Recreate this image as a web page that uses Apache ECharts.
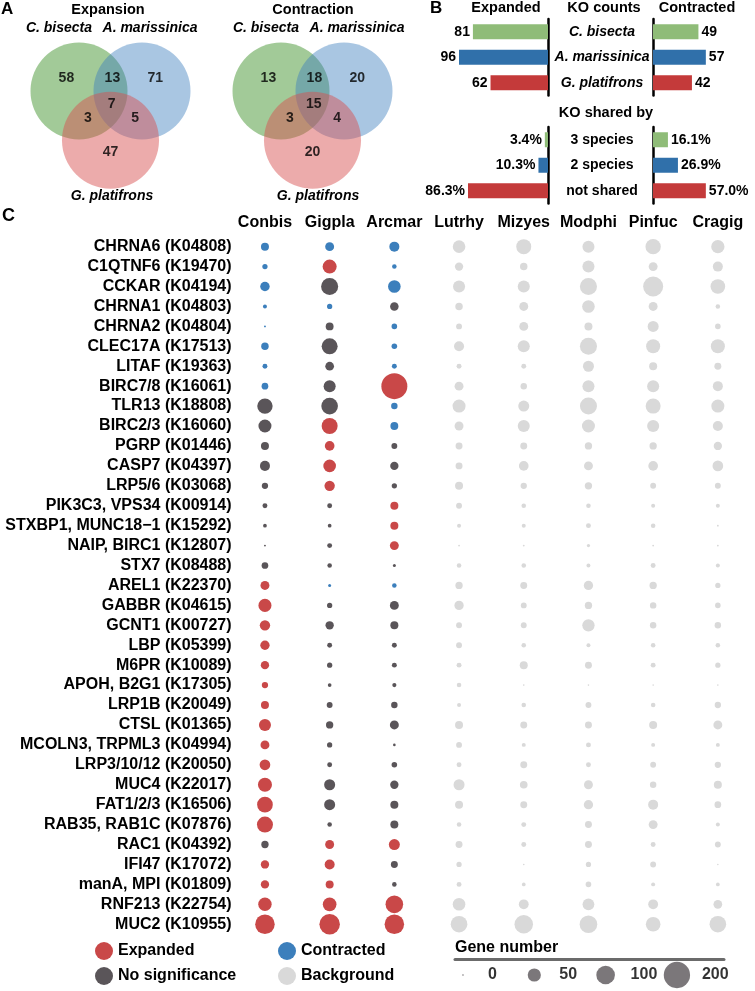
<!DOCTYPE html>
<html><head><meta charset="utf-8">
<script src="https://cdn.jsdelivr.net/npm/echarts@6/dist/echarts.min.js"></script>
<style>html,body{margin:0;padding:0;background:#fff}#c{width:755px;height:991px}</style>
</head><body><div id="c"></div>
<script>
const FONT = "'Liberation Sans', Arial, Helvetica, sans-serif";

// ---------- Panel A (Venn) ----------
const vennSets = ['C. bisecta', 'A. marissinica', 'G. platifrons'];
// regions: C only, C∩A, A only, C∩G, C∩A∩G, A∩G, G only
const expansionCounts = [58, 13, 71, 3, 7, 5, 47];
const contractionCounts = [13, 18, 20, 3, 15, 4, 20];

// ---------- Panel B ----------
const species = ['C. bisecta', 'A. marissinica', 'G. platifrons'];
const expandedKO = [81, 96, 62];
const contractedKO = [49, 57, 42];
const sharedBy = ['3 species', '2 species', 'not shared'];
const expandedShared = [3.4, 10.3, 86.3];
const contractedShared = [16.1, 26.9, 57.0];

// ---------- Panel C ----------
const genomes = ['Conbis', 'Gigpla', 'Arcmar', 'Lutrhy', 'Mizyes', 'Modphi', 'Pinfuc', 'Cragig'];
const koLabels = ['CHRNA6 (K04808)', 'C1QTNF6 (K19470)', 'CCKAR (K04194)', 'CHRNA1 (K04803)', 'CHRNA2 (K04804)',
  'CLEC17A (K17513)', 'LITAF (K19363)', 'BIRC7/8 (K16061)', 'TLR13 (K18808)', 'BIRC2/3 (K16060)',
  'PGRP (K01446)', 'CASP7 (K04397)', 'LRP5/6 (K03068)', 'PIK3C3, VPS34 (K00914)', 'STXBP1, MUNC18\u22121 (K15292)',
  'NAIP, BIRC1 (K12807)', 'STX7 (K08488)', 'AREL1 (K22370)', 'GABBR (K04615)', 'GCNT1 (K00727)',
  'LBP (K05399)', 'M6PR (K10089)', 'APOH, B2G1 (K17305)', 'LRP1B (K20049)', 'CTSL (K01365)',
  'MCOLN3, TRPML3 (K04994)', 'LRP3/10/12 (K20050)', 'MUC4 (K22017)', 'FAT1/2/3 (K16506)', 'RAB35, RAB1C (K07876)',
  'RAC1 (K04392)', 'IFI47 (K17072)', 'manA, MPI (K01809)', 'RNF213 (K22754)', 'MUC2 (K10955)'];
// gene numbers per genome (same order as koLabels)
const conbisGenes = [18.5, 8, 26, 4.6, 1, 16, 7, 13, 68, 49, 18.5, 29, 11.5, 7, 4, 1, 13, 23, 49, 31, 25, 20, 11.5, 18.5, 42, 23, 33, 57, 71, 74, 15.5, 20, 20, 52, 110];
const gigplaGenes = [23, 57, 84, 8, 18, 74, 22, 42, 80, 74, 27, 46, 31, 7, 4, 7, 6, 2.6, 8, 20, 7, 8, 4, 10, 15.5, 8, 7, 35, 35, 6, 23, 29, 18.5, 54, 121];
const arcmarGenes = [29, 6, 46, 21, 9, 9, 7, 195, 12, 18, 10, 20, 8, 18.5, 18.5, 23, 2.6, 6, 23, 18.5, 7, 7, 5, 12, 23, 2, 9, 20, 18.5, 18.5, 35, 14, 6, 90, 110];
const lutrhyGenes = [46, 20, 42, 16, 10, 29, 7, 23, 49, 23, 14, 14, 18.5, 10, 4.6, 1, 6, 15.5, 25, 10, 10, 7, 6, 4.6, 18.5, 10, 7, 35, 18.5, 6, 14, 8, 7, 46, 80];
const mizyesGenes = [65, 16, 42, 23, 23, 42, 7, 12, 35, 42, 14, 27, 11.5, 6, 4.6, 1, 6, 14, 10, 10, 6, 18.5, 0.5, 6, 14, 4.6, 14, 17, 14, 7, 7, 0.5, 4, 28, 99];
const modphiGenes = [42, 42, 84, 46, 18.5, 84, 35, 42, 84, 49, 15.5, 23, 15.5, 6, 7, 3, 4.6, 25, 15.5, 44, 4.6, 14, 0.5, 10, 14, 7, 7, 23, 25, 14, 14, 8, 9, 40, 90];
const pinfucGenes = [68, 23, 116, 23, 35, 57, 18.5, 42, 65, 42, 15.5, 27, 10, 4.6, 6, 1, 7, 15.5, 12, 12, 6, 7, 0.5, 6, 18.5, 4.6, 10, 12, 29, 23, 7, 10, 4.6, 28, 62];
const cragigGenes = [51, 29, 62, 6, 9, 57, 14, 29, 49, 29, 20, 33, 10, 4.6, 1, 1, 4.6, 8, 9, 12, 6, 8, 0.5, 11.5, 23, 4.6, 11.5, 18.5, 13, 4.6, 10, 0.5, 4, 22, 80];
// status: E = expanded, C = contracted, N = no significance (background genomes have none)
const conbisStatus = 'CCCCCCCCNNNNNNNNNEEEEEEEEEEEEENEEEE'.split('');
const gigplaStatus = 'CENCNNNNNEEEENNNNCNNNNNNNNNNNNEEEEE'.split('');
const arcmarStatus = 'CCCNCCCECCNNNEEENCNNNNNNNNNNNNENNEE'.split('');
const geneLegendValues = [0, 50, 100, 200];

// ---------- helpers ----------
const genes = [conbisGenes, gigplaGenes, arcmarGenes, lutrhyGenes, mizyesGenes, modphiGenes, pinfucGenes, cragigGenes];
const statuses = [conbisStatus, gigplaStatus, arcmarStatus];
const sizeOf = v => Math.max(1.6, 1.86 * Math.sqrt(v));
const dotColors = { E: '#C94848', C: '#3C7FBC', N: '#5A5559', B: '#D9D9D9' };
const statusNames = { E: 'Expanded', C: 'Contracted', N: 'No significance', B: 'Background' };
const barColors = ['#8FBC78', '#3070AA', '#C43A3A'];

function txt(text, x, y, o) {
  o = o || {};
  return { type: 'text', x: x, y: y, silent: true, style: {
    text: text, fill: '#000', fontFamily: FONT, fontWeight: 'bold',
    fontSize: o.size || 14, fontStyle: o.italic ? 'italic' : 'normal',
    align: o.align || 'center', verticalAlign: 'middle' } };
}

const grids = [], xAxes = [], yAxes = [], series = [];

// Venn grids
const U = 63; // px per venn unit
const circleCenters = [[-0.5, 0], [0.5, 0], [0, 0.78]];
const regionPos = [[-0.7, -0.21], [0.03, -0.21], [0.71, -0.21], [-0.36, 0.43], [0.02, 0.21], [0.39, 0.43], [0, 0.97]];
const vennColors = ['rgba(60,145,40,0.6)', 'rgba(60,125,190,0.55)', 'rgba(215,80,80,0.6)'];
[expansionCounts, contractionCounts].forEach((counts, k) => {
  grids.push({ left: 110.5 - 1.6 * U + 202 * k, top: 91 - 1.4 * U, width: 3.2 * U, height: 3.2 * U });
  xAxes.push({ gridIndex: k, type: 'value', min: -1.6, max: 1.6, show: false });
  yAxes.push({ gridIndex: k, type: 'value', min: -1.4, max: 1.8, inverse: true, show: false });
  series.push({ type: 'scatter', xAxisIndex: k, yAxisIndex: k, symbolSize: 0.77 * 2 * U, silent: true,
    data: circleCenters.map((c, i) => ({ value: c, itemStyle: { color: vennColors[i] } })) });
  series.push({ type: 'scatter', xAxisIndex: k, yAxisIndex: k, symbolSize: 1, silent: true, z: 5,
    itemStyle: { color: 'rgba(0,0,0,0)' },
    label: { show: true, position: 'inside', color: '#000', fontFamily: FONT, fontWeight: 'bold', fontSize: 14,
      formatter: p => counts[p.dataIndex] },
    data: regionPos.map(p => p) });
});

// Panel B grids
const bRows = [
  { cats: species, exp: expandedKO, con: contractedKO, top: 19, italic: true, pct: false },
  { cats: sharedBy, exp: expandedShared, con: contractedShared, top: 127, italic: false, pct: true }
];
const PXU = 0.927;
bRows.forEach((r) => {
  const ge = grids.length;
  grids.push({ left: 548 - 100 * PXU, top: r.top, width: 100 * PXU, height: 76.5 });
  xAxes.push({ gridIndex: ge, type: 'value', min: 0, max: 100, inverse: true, show: false });
  yAxes.push({ gridIndex: ge, type: 'category', data: r.cats, inverse: true, position: 'right',
    axisLine: { onZero: false, lineStyle: { color: '#000', width: 2.5 } }, axisTick: { show: false }, axisLabel: { show: false } });
  series.push({ type: 'bar', xAxisIndex: ge, yAxisIndex: ge, barWidth: 15, silent: true,
    data: r.exp.map((v, i) => ({ value: v, itemStyle: { color: barColors[i] } })),
    label: { show: true, position: 'left', distance: 3, color: '#000', fontFamily: FONT, fontWeight: 'bold', fontSize: 14,
      formatter: p => r.pct ? p.value.toFixed(1) + '%' : p.value } });
});
bRows.forEach((r) => {
  const gc = grids.length;
  grids.push({ left: 653, top: r.top, width: 100 * PXU, height: 76.5 });
  xAxes.push({ gridIndex: gc, type: 'value', min: 0, max: 100, show: false });
  yAxes.push({ gridIndex: gc, type: 'category', data: r.cats, inverse: true, position: 'left',
    axisLine: { onZero: false, lineStyle: { color: '#000', width: 2.5 } }, axisTick: { show: false },
    axisLabel: { show: true, interval: 0, align: 'center', margin: 51, color: '#000', fontFamily: FONT, fontWeight: 'bold',
      fontSize: 14, fontStyle: r.italic ? 'italic' : 'normal' } });
  series.push({ type: 'bar', xAxisIndex: gc, yAxisIndex: gc, barWidth: 15, silent: true,
    data: r.con.map((v, i) => ({ value: v, itemStyle: { color: barColors[i] } })),
    label: { show: true, position: 'right', distance: 3, color: '#000', fontFamily: FONT, fontWeight: 'bold', fontSize: 14,
      formatter: p => r.pct ? p.value.toFixed(1) + '%' : p.value } });
});

// Panel C dot plot
const gd = grids.length;
grids.push({ left: 232.6, top: 236.7, width: 517.6, height: 697.5 });
xAxes.push({ gridIndex: gd, type: 'category', data: genomes, position: 'top',
  axisLine: { show: false }, axisTick: { show: false }, splitLine: { show: false },
  axisLabel: { interval: 0, margin: 6, color: '#000', fontFamily: FONT, fontWeight: 'bold', fontSize: 16 } });
yAxes.push({ gridIndex: gd, type: 'category', data: koLabels, inverse: true,
  axisLine: { show: false }, axisTick: { show: false }, splitLine: { show: false },
  axisLabel: { interval: 0, margin: 1, color: '#000', fontFamily: FONT, fontWeight: 'bold', fontSize: 16 } });
['B', 'N', 'C', 'E'].forEach(s => {
  const data = [];
  genes.forEach((col, c) => col.forEach((v, r) => {
    const st = c < 3 ? statuses[c][r] : 'B';
    if (st === s) data.push([c, r, v]);
  }));
  series.push({ type: 'scatter', name: statusNames[s], xAxisIndex: gd, yAxisIndex: gd, silent: true,
    itemStyle: { color: dotColors[s], opacity: 1 }, symbolSize: v => sizeOf(v[2]), data: data });
});

// Size legend grid
const gl = grids.length;
grids.push({ left: 455, top: 959, width: 269, height: 36 });
xAxes.push({ gridIndex: gl, type: 'value', min: -0.112, max: 3.66, position: 'top',
  axisLine: { show: true, onZero: false, lineStyle: { color: '#6b6b6b', width: 3 } },
  axisTick: { show: false }, axisLabel: { show: false }, splitLine: { show: false } });
yAxes.push({ gridIndex: gl, type: 'value', min: -1, max: 1, show: false });
series.push({ type: 'scatter', xAxisIndex: gl, yAxisIndex: gl, silent: true,
  itemStyle: { color: '#5A5559' },
  symbolSize: (v, p) => sizeOf(geneLegendValues[p.dataIndex]),
  label: { show: true, position: 'right', color: '#000', fontFamily: FONT, fontWeight: 'bold', fontSize: 16,
    formatter: p => geneLegendValues[p.dataIndex] },
  data: geneLegendValues.map((g, i) => ({ value: [i, 0], label: { distance: 25 - sizeOf(g) / 2 } })) });

const legendText = { color: '#000', fontFamily: FONT, fontWeight: 'bold', fontSize: 16, lineHeight: 18 };
const legendBase = { orient: 'vertical', top: 942, height: 49, padding: 0, itemWidth: 18, itemHeight: 18,
  itemGap: 7, icon: 'circle', selectedMode: false, textStyle: legendText };
const option = {
  animation: false,
  backgroundColor: '#fff',
  grid: grids, xAxis: xAxes, yAxis: yAxes, series: series,
  legend: [
    Object.assign({ data: ['Expanded', 'No significance'], left: 95 }, legendBase),
    Object.assign({ data: ['Contracted', 'Background'], left: 278 }, legendBase)
  ],
  graphic: [
    txt('A', 1, 9, { size: 17, align: 'left' }),
    txt('Expansion', 108, 10, { size: 14.5 }),
    txt(vennSets[0], 59, 28, { italic: true }),
    txt(vennSets[1], 150, 28, { italic: true }),
    txt(vennSets[2], 112, 196, { italic: true }),
    txt('Contraction', 313, 10, { size: 14.5 }),
    txt(vennSets[0], 266, 28, { italic: true }),
    txt(vennSets[1], 357, 28, { italic: true }),
    txt(vennSets[2], 318, 196, { italic: true }),
    txt('B', 430, 8, { size: 17, align: 'left' }),
    txt('Expanded', 506, 8, { size: 14.5 }),
    txt('KO counts', 604, 8, { size: 14.5 }),
    txt('Contracted', 697, 8, { size: 14.5 }),
    txt('KO shared by', 606, 113, { size: 14.5 }),
    txt('C', 2, 216, { size: 18, align: 'left' }),
    txt('Gene number', 455, 948, { size: 16, align: 'left' })
  ]
};
const chart = echarts.init(document.getElementById('c'), null, { renderer: 'canvas' });
chart.setOption(option);
</script></body></html>
